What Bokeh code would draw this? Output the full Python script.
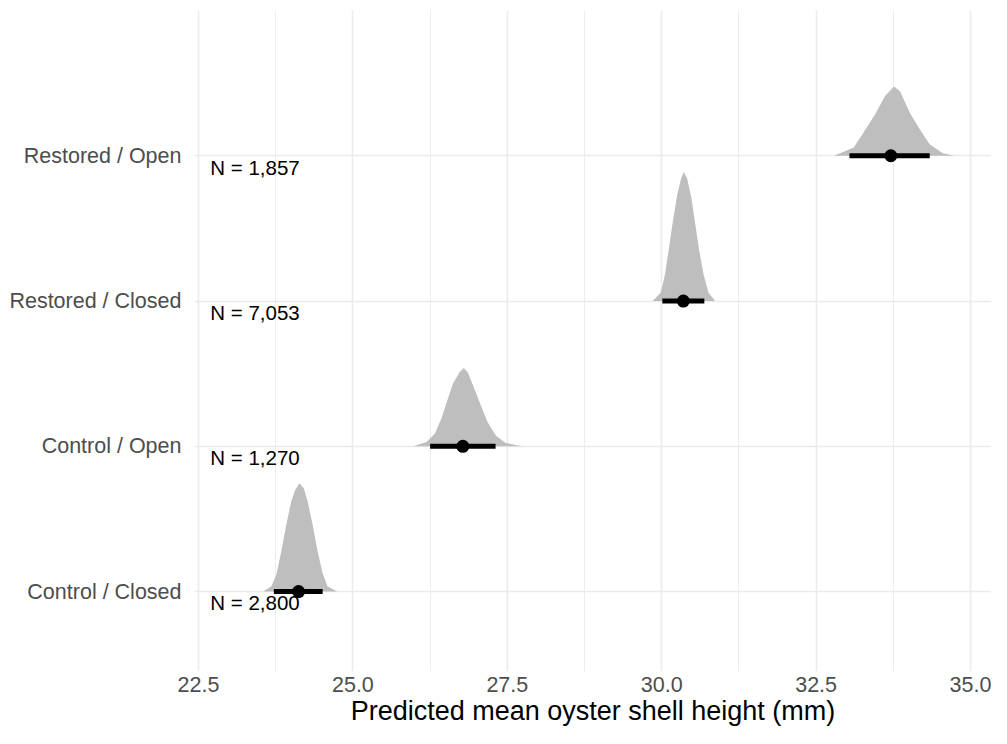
from bokeh.plotting import figure
from bokeh.models import FixedTicker, Range1d, NumeralTickFormatter, ColumnDataSource
from bokeh.core.properties import value
from bokeh.embed import file_html
from bokeh.resources import INLINE

# Groups (bottom to top)
groups = ["Control / Closed", "Control / Open", "Restored / Closed", "Restored / Open"]
n_labels = ["N = 2,800", "N = 1,270", "N = 7,053", "N = 1,857"]

# Point estimates and 95% intervals (mm)
medians = [24.12, 26.78, 30.35, 33.71]
lowers = [23.72, 26.25, 30.01, 33.04]
uppers = [24.51, 27.31, 30.69, 34.34]

# Density outlines: x (mm) and slab height (row units)
cc_x = [23.547, 23.681, 23.761, 23.841, 23.921, 24.001, 24.065, 24.135, 24.204, 24.268, 24.348, 24.428, 24.508, 24.588, 24.748]
cc_h = [0.0, 0.037, 0.117, 0.277, 0.460, 0.620, 0.700, 0.746, 0.712, 0.620, 0.460, 0.277, 0.128, 0.037, 0.0]

co_x = [25.978, 26.191, 26.325, 26.431, 26.538, 26.619, 26.726, 26.795, 26.859, 26.966, 27.072, 27.179, 27.313, 27.473, 27.740]
co_h = [0.0, 0.030, 0.087, 0.190, 0.327, 0.430, 0.510, 0.540, 0.510, 0.396, 0.281, 0.167, 0.075, 0.023, 0.0]

rc_x = [29.851, 29.984, 30.053, 30.117, 30.181, 30.251, 30.315, 30.357, 30.411, 30.481, 30.545, 30.609, 30.678, 30.758, 30.865]
rc_h = [0.0, 0.057, 0.183, 0.366, 0.549, 0.732, 0.846, 0.888, 0.846, 0.709, 0.526, 0.343, 0.183, 0.057, 0.0]

ro_x = [32.788, 33.109, 33.269, 33.456, 33.616, 33.761, 33.857, 34.017, 34.178, 34.338, 34.551, 34.739]
ro_h = [0.0, 0.057, 0.160, 0.286, 0.412, 0.476, 0.446, 0.297, 0.183, 0.080, 0.018, 0.0]

x_ticks = [22.5, 25.0, 27.5, 30.0, 32.5, 35.0]
x_minor = [23.75, 26.25, 28.75, 31.25, 33.75]
rows = [1, 2, 3, 4]

FONT = "Liberation Sans"

p = figure(width=991, height=728, x_range=Range1d(22.435, 35.34), y_range=Range1d(0.45, 5.0),
           output_backend="svg", toolbar_location=None,
           min_border_left=194, min_border_right=0, min_border_top=10, min_border_bottom=0)
p.outline_line_color = None
p.background_fill_color = "white"
p.border_fill_color = "white"

# axes
p.xaxis.ticker = FixedTicker(ticks=x_ticks, minor_ticks=x_minor)
p.xaxis.formatter = NumeralTickFormatter(format="0.0")
p.yaxis.ticker = FixedTicker(ticks=rows)
p.yaxis.major_label_overrides = {r: g for r, g in zip(rows, groups)}
for ax in (p.xaxis, p.yaxis):
    ax.axis_line_color = None
    ax.major_tick_line_color = None
    ax.minor_tick_line_color = None
    ax.major_tick_out = 0
    ax.major_tick_in = 0
    ax.minor_tick_out = 0
    ax.minor_tick_in = 0
    ax.major_label_text_font = FONT
    ax.major_label_text_font_size = "21.5px"
    ax.major_label_text_color = "#4d4d4d"
p.yaxis.major_label_standoff = 13
p.xaxis.major_label_standoff = 5
p.xaxis.axis_label = "Predicted mean oyster shell height (mm)"
p.xaxis.axis_label_text_font = FONT
p.xaxis.axis_label_text_font_size = "27px"
p.xaxis.axis_label_text_font_style = "normal"
p.xaxis.axis_label_text_color = "black"
p.xaxis.axis_label_standoff = 1

# grid
p.xgrid.grid_line_color = "#ebebeb"
p.xgrid.grid_line_width = 1.6
p.xgrid.minor_grid_line_color = "#ebebeb"
p.xgrid.minor_grid_line_width = 0.9
p.ygrid.grid_line_color = "#ebebeb"
p.ygrid.grid_line_width = 1.6

# N labels
p.text(x=[22.69] * 4, y=[r - 0.078 for r in rows], text=n_labels,
       text_font=value(FONT), text_font_size="20.5px", text_color="black",
       text_align="left", text_baseline="middle")

# densities
for r, xs, hs in zip(rows, [cc_x, co_x, rc_x, ro_x], [cc_h, co_h, rc_h, ro_h]):
    p.patch(x=xs, y=[r + h for h in hs], fill_color="#bebebe", line_color=None)

# intervals and points
src = ColumnDataSource(dict(y=rows, lo=lowers, hi=uppers, med=medians))
p.segment(x0="lo", x1="hi", y0="y", y1="y", source=src, line_color="black", line_width=5)
p.scatter(x="med", y="y", source=src, size=13, fill_color="black", line_color=None)

open("out.html", "w").write(file_html(p, INLINE))
